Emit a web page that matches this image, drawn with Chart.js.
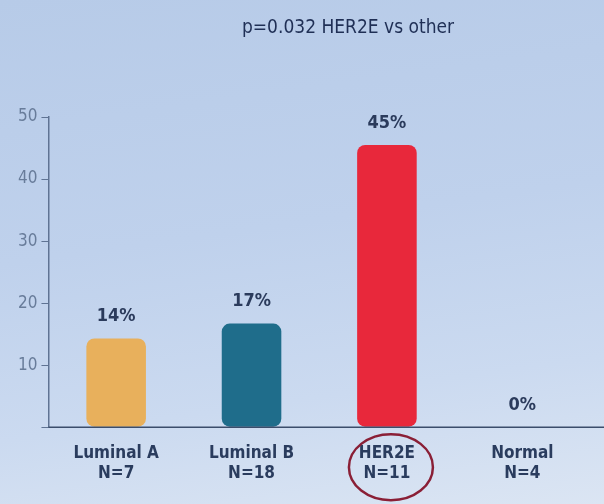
<!DOCTYPE html>
<html>
<head>
<meta charset="utf-8">
<script src="https://cdn.jsdelivr.net/npm/chart.js@4"></script>
<style>
  html, body { margin: 0; padding: 0; }
  body {
    width: 604px; height: 504px; overflow: hidden;
    background: linear-gradient(172deg, #b7cbe8 0%, #bfd1ec 45%, #cbdaf0 75%, #dbe5f3 100%);
  }
  #wrap { position: relative; width: 604px; height: 504px; }
</style>
</head>
<body>
<div id="wrap"><canvas id="myChart" width="604" height="504"></canvas></div>
<script>
const subtypes = ['Luminal A', 'Luminal B', 'HER2E', 'Normal'];
const counts = ['N=7', 'N=18', 'N=11', 'N=4'];
const percentValues = [14.3, 16.7, 45.5, 0];
const percentLabels = ['14%', '17%', '45%', '0%'];
const barColors = ['#e8b05c', '#1f6d8b', '#e8283b', '#e8283b'];
const yTicks = [0, 10, 20, 30, 40, 50];

const fontFam = "'Liberation Sans Narrow', 'DejaVu Sans Condensed', sans-serif";

// texte au-dessus des barres + titre + cercle rouge
const extras = {
  id: 'extras',
  afterDatasetsDraw(chart) {
    const ctx = chart.ctx;
    const meta = chart.getDatasetMeta(0);
    const xs = chart.scales.x;
    const area = chart.chartArea;

    // ligne de base prolongée
    ctx.save();
    ctx.strokeStyle = '#3b4d6b';
    ctx.lineWidth = 1.5;
    ctx.beginPath();
    ctx.moveTo(area.left, area.bottom);
    ctx.lineTo(chart.width, area.bottom);
    ctx.stroke();

    ctx.fillStyle = '#2b3b5c';
    ctx.font = 'bold 18px ' + fontFam;
    ctx.textAlign = 'center';
    ctx.textBaseline = 'middle';
    meta.data.forEach(function(bar, i) {
      ctx.fillText(percentLabels[i], bar.x, bar.y - 22);
    });

    ctx.font = '19px ' + fontFam;
    ctx.fillStyle = '#1f2f55';
    ctx.fillText('p=0.032 HER2E vs other', 348, 28);

    const cx = xs.getPixelForValue(2);
    ctx.strokeStyle = '#8a1f36';
    ctx.lineWidth = 2.5;
    ctx.beginPath();
    ctx.ellipse(cx + 4, area.bottom + 40, 42, 33, 0, 0, Math.PI * 2);
    ctx.stroke();
    ctx.restore();
  }
};

const data = {
  labels: subtypes.map(function(s, i) { return [s, counts[i]]; }),
  datasets: [
    {
      data: percentValues,
      backgroundColor: barColors,
      borderRadius: 8,
      borderSkipped: false,
      barPercentage: 0.44,
      categoryPercentage: 1.0
    }
  ]
};

const config = {
  type: 'bar',
  data: data,
  options: {
    responsive: false,
    animation: false,
    layout: { padding: { top: 117, right: 14, left: 14, bottom: 12 } },
    plugins: {
      legend: { display: false },
      tooltip: { enabled: false }
    },
    scales: {
      x: {
        grid: { display: false },
        border: { display: false },
        ticks: {
          color: '#2a3c5e',
          font: { family: fontFam, size: 17, weight: 'bold' },
          padding: 8
        }
      },
      y: {
        min: 0,
        max: 50,
        afterBuildTicks: function(axis) {
          axis.ticks = yTicks.map(function(v) { return { value: v }; });
        },
        grid: { drawOnChartArea: false, drawTicks: true, tickLength: 7, color: '#5f7393' },
        border: { display: true, color: '#5f7393', width: 1.5 },
        ticks: {
          color: '#687c9a',
          font: { family: fontFam, size: 17 },
          padding: 4,
          callback: function(v) { return v === 0 ? '' : v; }
        }
      }
    }
  },
  plugins: [extras]
};

var myChart = new Chart(document.getElementById('myChart'), config);
</script>
</body>
</html>
